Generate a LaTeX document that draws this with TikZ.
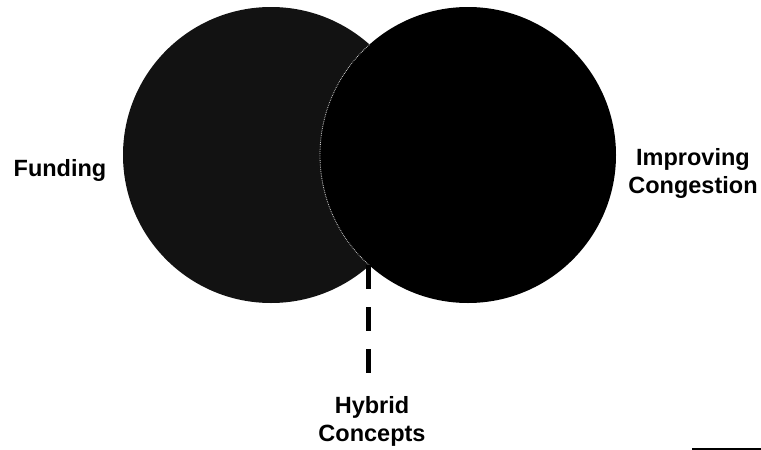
\documentclass[tikz,border=0pt]{standalone}
\usepackage{fontspec}
\setmainfont{Liberation Sans}
\usepackage{tikz}

\begin{document}
\begin{tikzpicture}[x=1pt, y=-1pt,
    label/.style={font=\fontsize{23.5}{28}\selectfont\bfseries, align=center, inner sep=0pt},
    ring/.style={circle, minimum size=296pt, inner sep=0pt}]
    \useasboundingbox (0,0) rectangle (761,450);

    \node[ring, fill=black!93] (funding) at (271,155) {};
    \node[ring, fill=black] (congestion) at (468,155) {};
    % faint edge of the right circle inside the left one
    \begin{scope}
        \clip (271,155) circle (148);
        \draw[gray!40, densely dotted, line width=0.8pt] (468,155) circle (148);
    \end{scope}

    \node[label] (fundtext) at (60,170) {Funding};
    \node[label] (congtext) at (693,173) {Improving\\Congestion};
    \node[label] (hybrid) at (372,421) {Hybrid\\Concepts};

    \coordinate (meet) at (368,265);
    \coordinate (dashend) at (368,375);
    \draw[line width=5pt, dash pattern=on 24pt off 18pt] (meet) -- (dashend);

    \coordinate (rulea) at (692,449);
    \coordinate (ruleb) at (761,449);
    \draw[line width=1.2pt] (rulea) -- (ruleb);
\end{tikzpicture}
\end{document}
